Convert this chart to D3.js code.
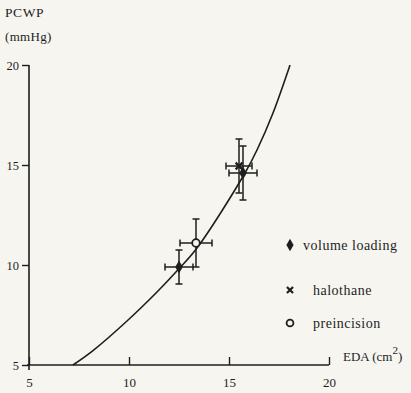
<!DOCTYPE html>
<html>
<head>
<meta charset="utf-8">
<script src="https://cdn.jsdelivr.net/npm/d3@7"></script>
<style>
  html, body { margin: 0; padding: 0; background: #f6f5f0; }
  svg { display: block; }
  text { font-family: "Liberation Serif", "DejaVu Serif", serif; fill: #1e1e1e; }
</style>
</head>
<body>
<svg id="chart" width="411" height="393"></svg>
<script>
// Axis ticks
const xTicks = [5, 10, 15, 20];
const yTicks = [5, 10, 15, 20];

// Group means with SD bars (EDA in cm², PCWP in mmHg)
const groupNames = ["volume loading", "preincision", "halothane", "volume loading"];
const edaMean   = [12.5, 13.35, 15.5, 15.7];
const edaSD     = [0.7, 0.8, 0.65, 0.7];
const pcwpMean  = [9.9, 11.1, 14.95, 14.6];
const pcwpSD    = [0.85, 1.2, 1.35, 1.35];

// Fitted pressure–area relation, traced along its length
const curveEda  = [7.2, 8.2, 9.9, 11.4, 12.3, 13.4, 15.8, 16.4, 17.2, 18.05];
const curvePcwp = [5.0, 5.72, 7.2, 8.65, 9.6, 10.85, 14.6, 15.75, 17.6, 20.0];

// Legend entries
const legendNames = ["volume loading", "halothane", "preincision"];

const ink = "#1e1e1e";
const paper = "#f6f5f0";
const svg = d3.select("#chart");

const x = d3.scaleLinear().domain([5, 20]).range([29, 329]);
const y = d3.scaleLinear().domain([5, 20]).range([365, 65]);

// Axis lines
svg.append("line")
  .attr("x1", x(5)).attr("x2", x(5))
  .attr("y1", y(20)).attr("y2", y(5) + 5)
  .attr("stroke", ink).attr("stroke-width", 1.6);
svg.append("line")
  .attr("x1", x(5) - 2).attr("x2", x(20))
  .attr("y1", y(5)).attr("y2", y(5))
  .attr("stroke", ink).attr("stroke-width", 1.6);

// Y axis ticks and labels
const yAxis = svg.append("g")
  .attr("transform", `translate(${x(5)},0)`)
  .call(d3.axisLeft(y).tickValues(yTicks).tickSize(7).tickPadding(3).tickFormat(d3.format("d")));
yAxis.select(".domain").remove();
yAxis.selectAll("line").attr("stroke", ink).attr("stroke-width", 1.4);
yAxis.selectAll("text").attr("font-size", 12.5).style("font-family", "Liberation Serif").attr("fill", ink);

// X axis ticks point up into the plot, labels below
const xAxis = svg.append("g")
  .attr("transform", `translate(0,${y(5)})`)
  .call(d3.axisBottom(x).tickValues(xTicks).tickSize(-8).tickPadding(13).tickFormat(d3.format("d")));
xAxis.select(".domain").remove();
xAxis.selectAll("line").attr("stroke", ink).attr("stroke-width", 1.4);
xAxis.selectAll("text").attr("font-size", 13).style("font-family", "Liberation Serif").attr("fill", ink);

// Axis titles
svg.append("text").attr("x", 5).attr("y", 17).attr("font-size", 13.5)
  .attr("letter-spacing", 0.6).text("PCWP");
svg.append("text").attr("x", 5).attr("y", 41).attr("font-size", 13)
  .attr("letter-spacing", 0.3).text("(mmHg)");
const xt = svg.append("text").attr("x", 343).attr("y", 361).attr("font-size", 13);
xt.append("tspan").text("EDA (cm");
xt.append("tspan").attr("dy", -7).attr("font-size", 11).text("2");
xt.append("tspan").attr("dy", 7).text(")");

// Fitted curve
const curvePts = curveEda.map((d, i) => [d, curvePcwp[i]]);
svg.append("path")
  .datum(curvePts)
  .attr("fill", "none")
  .attr("stroke", ink)
  .attr("stroke-width", 1.6)
  .attr("d", d3.line().x(d => x(d[0])).y(d => y(d[1])).curve(d3.curveCatmullRom.alpha(0.5)));

// Error bars
const cap = 3.5;
const pts = edaMean.map((d, i) => ({
  name: groupNames[i], eda: d, edaSD: edaSD[i], pcwp: pcwpMean[i], pcwpSD: pcwpSD[i]
}));
const eb = svg.append("g").attr("stroke", ink).attr("stroke-width", 1.5);
pts.forEach(p => {
  const cx = x(p.eda), cy = y(p.pcwp);
  const x0 = x(p.eda - p.edaSD), x1 = x(p.eda + p.edaSD);
  const y0 = y(p.pcwp - p.pcwpSD), y1 = y(p.pcwp + p.pcwpSD);
  eb.append("line").attr("x1", x0).attr("x2", x1).attr("y1", cy).attr("y2", cy);
  eb.append("line").attr("x1", x0).attr("x2", x0).attr("y1", cy - cap).attr("y2", cy + cap);
  eb.append("line").attr("x1", x1).attr("x2", x1).attr("y1", cy - cap).attr("y2", cy + cap);
  eb.append("line").attr("x1", cx).attr("x2", cx).attr("y1", y0).attr("y2", y1);
  eb.append("line").attr("x1", cx - cap).attr("x2", cx + cap).attr("y1", y0).attr("y2", y0);
  eb.append("line").attr("x1", cx - cap).attr("x2", cx + cap).attr("y1", y1).attr("y2", y1);
});

// Markers by group
function drawMarker(g, name, cx, cy, s) {
  if (name === "volume loading") {
    g.append("path")
      .attr("d", d3.symbol(d3.symbolDiamond, 50 * s)())
      .attr("transform", `translate(${cx},${cy})`)
      .attr("fill", ink);
  } else if (name === "halothane") {
    const r = 3.4 * s;
    g.append("path")
      .attr("d", `M${cx - r},${cy - r}L${cx + r},${cy + r}M${cx - r},${cy + r}L${cx + r},${cy - r}`)
      .attr("stroke", ink).attr("stroke-width", 2.2).attr("fill", "none");
  } else {
    g.append("circle")
      .attr("cx", cx).attr("cy", cy).attr("r", 3.8 * s)
      .attr("fill", paper).attr("stroke", ink).attr("stroke-width", 1.8);
  }
}
const mk = svg.append("g");
pts.forEach(p => drawMarker(mk, p.name, x(p.eda), y(p.pcwp), 1));

// Legend
const legY = [245, 290, 323];
const legTextX = [303, 313, 313];
legendNames.forEach((n, i) => {
  drawMarker(svg, n, 290, legY[i], 0.9);
  svg.append("text").attr("x", legTextX[i]).attr("y", legY[i] + 4.5)
    .attr("font-size", 14).attr("letter-spacing", 0.5).text(n);
});
</script>
</body>
</html>
